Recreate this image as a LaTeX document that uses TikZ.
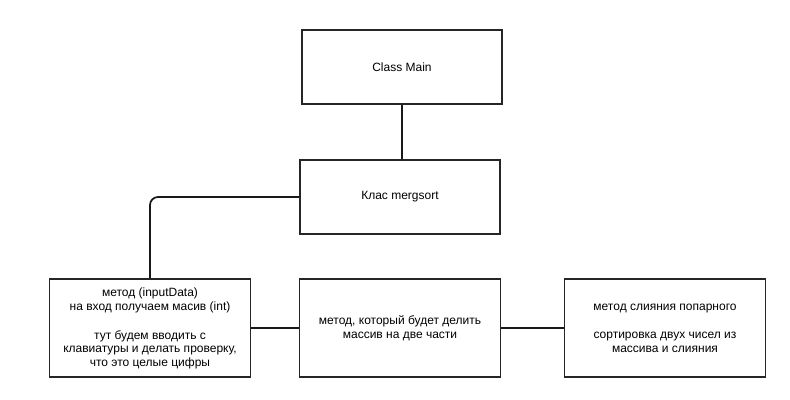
\documentclass[tikz,border=0pt]{standalone}
\usepackage{fontspec}
\setmainfont{Liberation Sans}
\usepackage{tikz}
\usetikzlibrary{positioning}
\tikzstyle{classbox} = [rectangle, minimum width=150pt, minimum height=56pt, text centered, draw=black!85, line width=1.3pt, font=\fontsize{9pt}{10pt}\selectfont]
\tikzstyle{methodbox} = [rectangle, minimum width=150.75pt, minimum height=73.5pt, align=center, draw=black!85, line width=1.3pt, font=\fontsize{9pt}{10pt}\selectfont]
\tikzstyle{link} = [line width=1.3pt, draw=black!90]

\begin{document}
\begin{tikzpicture}[x=0.75pt, y=-0.75pt, node distance=97.5pt]

  \useasboundingbox (0,0) rectangle (790,400);

  \node (main) [classbox] at (402,67) {Class Main};
  \node (merg) [classbox, below of=main, xshift=-1.5pt] {Клас mergsort};
  \node (split) [methodbox, below of=merg, yshift=-1pt] {метод, который будет делить\\массив на две части};
  \node (input) [methodbox, left of=split, xshift=-90pt] {метод (inputData)\\на вход получаем масив (int)\\[12pt]тут будем вводить с\\клавиатуры и делать проверку,\\что это целые цифры};
  \node (merge) [methodbox, right of=split, xshift=101.25pt] {метод слияния попарного\\[11pt]сортировка двух чисел из\\массива и слияния};

  \draw [link] (main.south) -- (main.south |- merg.north);
  \draw [link, rounded corners=6pt] (merg.west) -| (input.north);
  \draw [link] (input) -- (split);
  \draw [link] (split) -- (merge);

\end{tikzpicture}
\end{document}
